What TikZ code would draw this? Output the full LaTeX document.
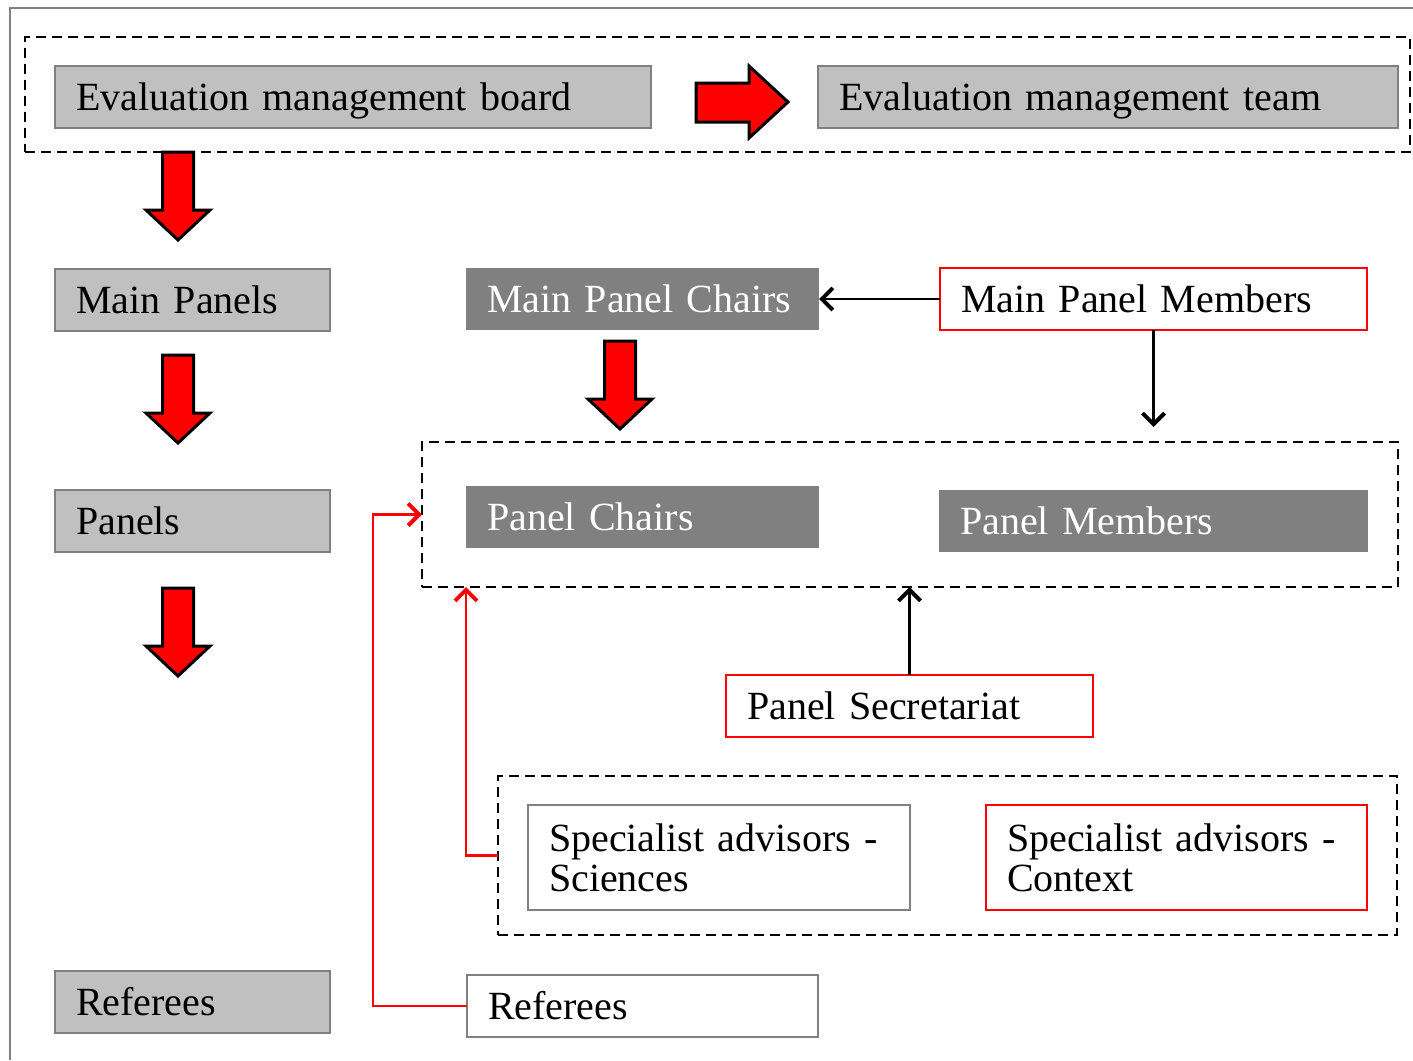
\documentclass[tikz,border=0pt]{standalone}
\usepackage{fontspec}
\setmainfont{Liberation Serif}
\usetikzlibrary{arrows.meta}
\definecolor{boxgray}{HTML}{C0C0C0}
\definecolor{linegray}{HTML}{808080}
\definecolor{darkgray}{HTML}{808080}
% red block arrow pointing down: x centre, y top
\newcommand{\bigdown}[2]{%
  \draw[bigarrow] (#1-15.5,#2) -- (#1+15.5,#2) -- (#1+15.5,#2+58) -- (#1+32,#2+58)
    -- (#1,#2+88) -- (#1-32,#2+58) -- (#1-15.5,#2+58) -- cycle;}

\begin{document}
\begin{tikzpicture}
    [x=1pt, y=-1pt, font=\fontsize{40}{40}\selectfont,
    every node/.style={anchor=north west, inner xsep=21pt, inner ysep=0pt,
      outer sep=0pt, align=left, text height=27pt, text depth=0pt},
    greybox/.style={draw=linegray, fill=boxgray, line width=2.5pt, minimum height=62pt},
    darkbox/.style={fill=darkgray, text=white, minimum height=62pt},
    redbox/.style={draw=red, fill=white, line width=2.5pt, minimum height=62pt},
    whitebox/.style={draw=linegray, fill=white, line width=2.5pt, minimum height=62pt},
    twolines/.style={minimum height=105pt, text depth=40pt},
    dashbox/.style={draw, dash pattern=on 10pt off 6pt, line width=2.5pt, inner sep=0pt},
    link/.style={line width=2.5pt, -{Straight Barb[length=11pt, width=22pt, line width=4pt]}},
    redlink/.style={link, draw=red},
    bigarrow/.style={draw, fill=red, line width=3pt, line join=miter}]

\useasboundingbox (0,0) rectangle (1413,1060);
\draw[linegray, line width=2.5pt] (10,1060) -- (10,8) -- (1413,8);

% top row
\node[dashbox, minimum width=1385pt, minimum height=115pt] (boardframe) at (25,37) {};
\node[greybox, text width=554pt] (board) at (55,66) {Evaluation management board};
\node[greybox, text width=538pt] (team) at (818,66) {Evaluation management team};
\draw[bigarrow] (696,83) -- (749,83) -- (749,66) -- (788,102) -- (749,138)
    -- (749,122) -- (696,122) -- cycle;

% left column
\node[greybox, text width=233pt] (main) at (55,269) {Main Panels};
\node[greybox, text width=233pt] (panels) at (55,490) {Panels};
\node[greybox, text width=233pt] (refleft) at (55,971) {Referees};
\bigdown{178}{152}
\bigdown{178}{355}
\bigdown{178}{588}

% panels
\node[darkbox, text width=311pt] (mpchairs) at (466,268) {Main Panel Chairs};
\node[redbox, text width=385pt] (mpmembers) at (940,268) {Main Panel Members};
\bigdown{620}{341}
\node[dashbox, minimum width=976pt, minimum height=145pt] (panelframe) at (422,442) {};
\node[darkbox, text width=311pt] (pchairs) at (466,486) {Panel Chairs};
\node[darkbox, text width=387pt] (pmembers) at (939,490) {Panel Members};
\node[redbox, text width=325pt] (secretariat) at (726,675) {Panel Secretariat};

% advisors and referees
\node[dashbox, minimum width=899pt, minimum height=159pt] (advframe) at (498,776) {};
\node[whitebox, twolines, text width=340pt] (sciences) at (528,805) {Specialist advisors -\\Sciences};
\node[redbox, twolines, text width=339pt] (context) at (986,805) {Specialist advisors -\\Context};
\node[whitebox, text width=309pt] (refright) at (467,975) {Referees};
\coordinate (refturn) at (373,700);

\draw[link] (mpmembers.west) -- (mpchairs.east);
\draw[link, shorten >=15pt] (mpmembers.south) -- (mpmembers.south |- panelframe.north);
\draw[link] (secretariat.north) -- (secretariat.north |- panelframe.south);
\draw[redlink] (advframe.west) -| (pchairs.west |- panelframe.south);
\draw[redlink] (refright.west) -| (refturn) |- (panelframe.west);
\end{tikzpicture}
\end{document}
